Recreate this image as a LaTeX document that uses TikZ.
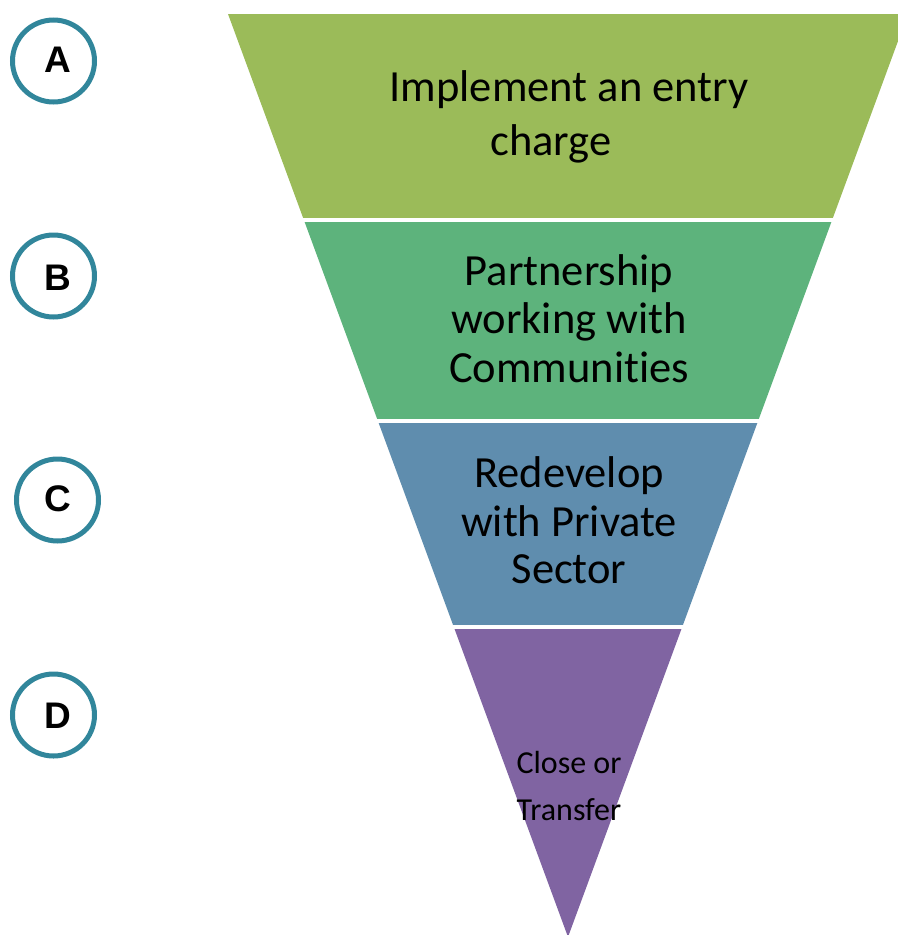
\documentclass[tikz,border=0pt]{standalone}
\usepackage{fontspec}
\setmainfont[Ligatures=NoCommon]{Carlito}
\newfontfamily\letterfont{Liberation Sans}
\definecolor{bandA}{RGB}{155,187,89}
\definecolor{bandB}{RGB}{93,179,124}
\definecolor{bandC}{RGB}{95,141,174}
\definecolor{bandD}{RGB}{128,100,162}
\definecolor{ring}{RGB}{49,134,155}
\tikzset{
  ringnode/.style={circle, draw=ring, line width=5pt, minimum size=82pt, inner sep=0pt},
  letternode/.style={inner sep=0pt, font=\letterfont\bfseries\fontsize{37}{37}\selectfont},
  bigtext/.style={anchor=base, inner sep=0pt, font=\fontsize{44.5}{48}\selectfont},
  smalltext/.style={anchor=base, inner sep=0pt, font=\fontsize{32}{36}\selectfont},
}
\begin{document}
\begin{tikzpicture}[x=1pt,y=-1pt]
\useasboundingbox (0,0) rectangle (898,935);
\begin{scope}
  \clip (228,14) -- (908,14) -- (568,937) -- cycle;
  \fill[bandA] (0,14) rectangle (898,218);
  \fill[bandB] (0,222) rectangle (898,419);
  \fill[bandC] (0,423) rectangle (898,625);
  \fill[bandD] (0,629) rectangle (898,940);
\end{scope}
\node[ringnode] (A) at (53.5,61) {};
\node[ringnode] (B) at (53.5,276) {};
\node[ringnode] (C) at (57.5,500) {};
\node[ringnode] (D) at (53.5,715) {};
\node[letternode] (LA) at (57.5,60) {A};
\node[letternode] (LB) at (57.5,278) {B};
\node[letternode] (LC) at (57.5,499) {C};
\node[letternode] (LD) at (57.5,716) {D};
\node[bigtext] (a1) at (569,101) {Implement an entry};
\node[bigtext] (a2) at (551,155) {charge};
\node[bigtext] (b1) at (569,285) {Partnership};
\node[bigtext] (b2) at (569,333) {working with};
\node[bigtext] (b3) at (569,382) {Communities};
\node[bigtext] (c1) at (569,487) {Redevelop};
\node[bigtext] (c2) at (569,536) {with Private};
\node[bigtext] (c3) at (569,583) {Sector};
\node[smalltext] (d1) at (569,773) {Close or};
\node[smalltext] (d2) at (569,820) {Transfer};
\end{tikzpicture}
\end{document}
